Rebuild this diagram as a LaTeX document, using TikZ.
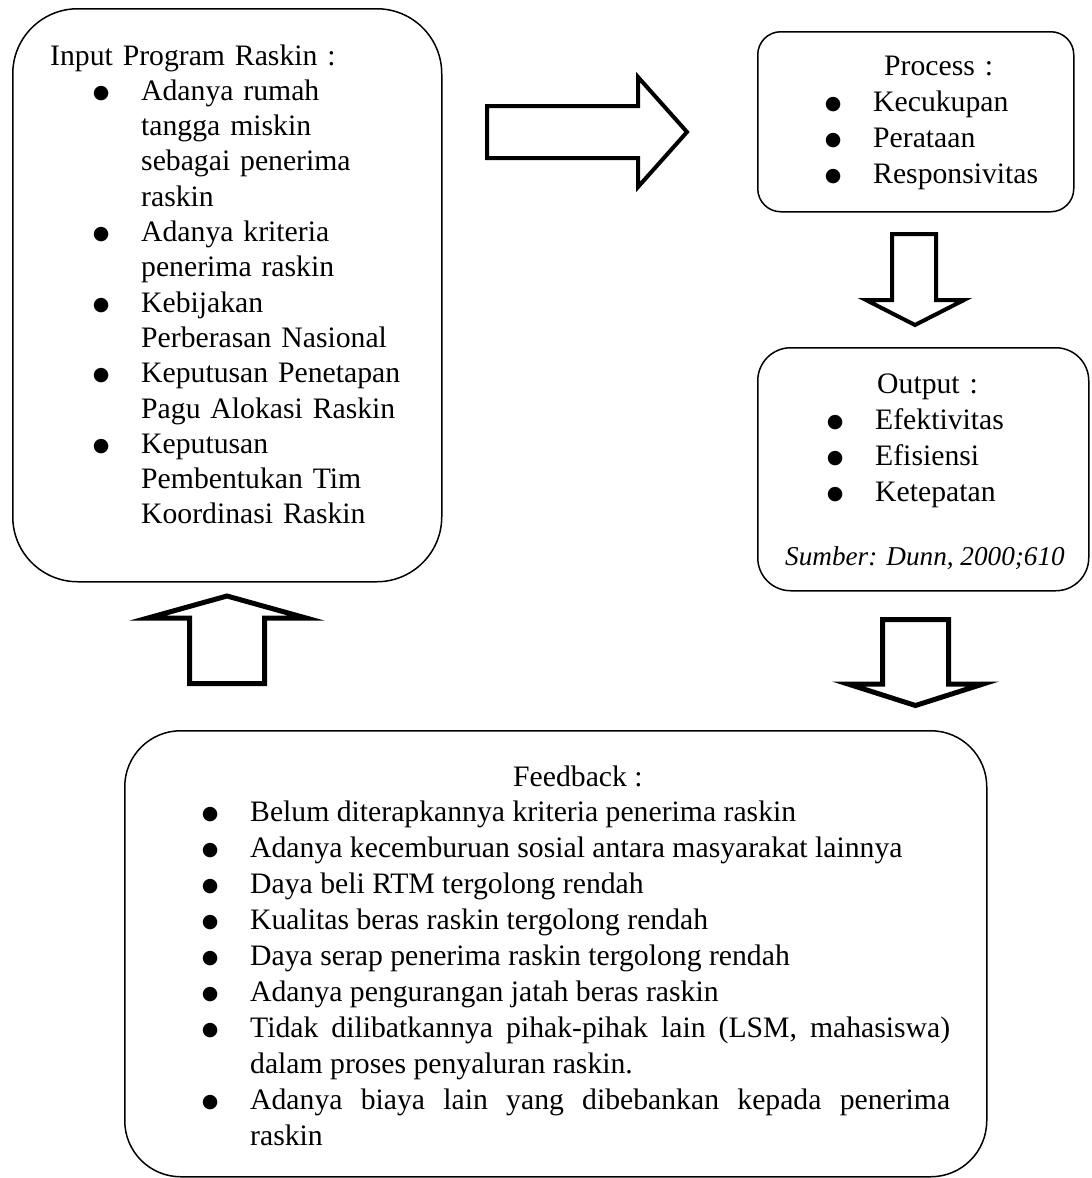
\documentclass[tikz,border=0pt]{standalone}
\usepackage{fontspec}
\setmainfont{Liberation Serif}
\newfontfamily\bulfont{DejaVu Sans}
\setlength\parskip{0pt}
\newcommand\bul{\raisebox{2pt}{\fontsize{19}{19}\bulfont ●}}
\newcommand\bitem[1]{\par\noindent\llap{\makebox[80pt][c]{\bul}}#1\par}
\tikzset{
  roundbox/.style={draw, line width=1.5pt, rounded corners=#1, inner sep=0pt, anchor=north west},
  blockarrow/.style={draw, line width=#1, line join=miter, miter limit=20, fill=white},
  listtext/.style={anchor=base west, inner sep=0pt, text width=#1},
  ragged/.style={align=left, font=\fontsize{29.7}{35.3}\selectfont},
  ragged36/.style={align=left, font=\fontsize{29.7}{36.2}\selectfont},
  just/.style={align=justify, font=\fontsize{29.7}{35.9}\selectfont},
}
\begin{document}
\begin{tikzpicture}[x=1pt,y=-1pt]
\useasboundingbox (0,0) rectangle (1092,1178);

% boxes
\node[roundbox=65pt, minimum width=429pt, minimum height=573pt] (inbox) at (12,8) {};
\node[roundbox=23pt, minimum width=316pt, minimum height=180pt] (procbox) at (757,31) {};
\node[roundbox=33pt, minimum width=331pt, minimum height=243pt] (outbox) at (757,347) {};
\node[roundbox=56pt, minimum width=862pt, minimum height=446pt] (fbbox) at (124,730) {};

% texts
\node[listtext=300pt, ragged] (intext) at (141,65) {%
\hspace*{-91pt}Input Program Raskin :\par
\bitem{Adanya rumah\newline tangga miskin\newline sebagai penerima\newline raskin}
\bitem{Adanya kriteria\newline penerima raskin}
\bitem{Kebijakan\newline Perberasan Nasional}
\bitem{Keputusan Penetapan\newline Pagu Alokasi Raskin}
\bitem{Keputusan\newline Pembentukan Tim\newline Koordinasi Raskin}};

\node[listtext=190pt, ragged36] (proctext) at (873,75) {%
\hspace*{11pt}Process :\par
\bitem{Kecukupan}
\bitem{Perataan}
\bitem{Responsivitas}};

\node[listtext=200pt, ragged36] (outtext) at (875,393) {%
\hspace*{2pt}Output :\par
\bitem{Efektivitas}
\bitem{Efisiensi}
\bitem{Ketepatan}};

\node[anchor=base west, inner sep=0pt, font=\fontsize{27.2}{32}\selectfont\itshape] (source) at (785,565) {Sumber: Dunn, 2000;610};

\node[listtext=700pt, just] (fbtext) at (250,786) {%
\tolerance=9999\relax
\hspace*{263pt}Feedback :\par
\bitem{Belum diterapkannya kriteria penerima raskin}
\bitem{Adanya kecemburuan sosial antara masyarakat lainnya}
\bitem{Daya beli RTM tergolong rendah}
\bitem{Kualitas beras raskin tergolong rendah}
\bitem{Daya serap penerima raskin tergolong rendah}
\bitem{Adanya pengurangan jatah beras raskin}
\bitem{Tidak dilibatkannya pihak-pihak lain (LSM, mahasiswa)\linebreak dalam proses penyaluran raskin.}
\bitem{Adanya biaya lain yang dibebankan kepada penerima\linebreak raskin}};

% block arrows
\draw[blockarrow=4pt] (487,106) -- (638,106) -- (638,77) -- (687,132) -- (638,187) -- (638,158) -- (487,158) -- cycle;
\draw[blockarrow=4pt] (892,234) -- (936,234) -- (936,300) -- (964,300) -- (915,325) -- (866,300) -- (892,300) -- cycle;
\draw[blockarrow=5pt] (189.5,683.5) -- (189.5,618) -- (148,618) -- (227,596) -- (306,618) -- (264.5,618) -- (264.5,683.5) -- cycle;
\draw[blockarrow=5pt] (882.5,619.5) -- (948.5,619.5) -- (948.5,684) -- (983,684) -- (915.5,705.5) -- (848,684) -- (882.5,684) -- cycle;
\end{tikzpicture}
\end{document}
